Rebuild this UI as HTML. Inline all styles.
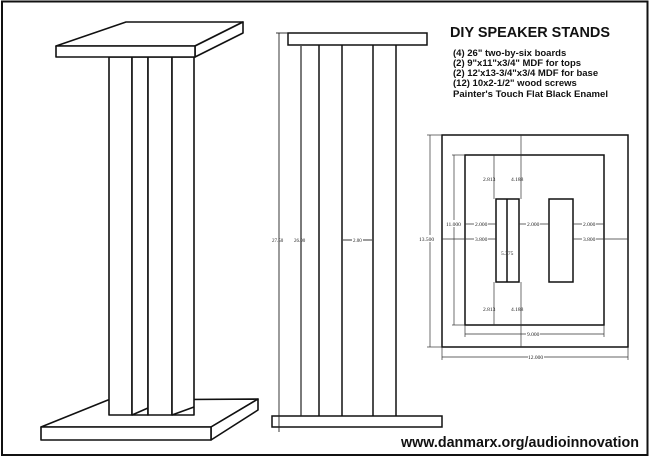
<!DOCTYPE html>
<html><head><meta charset="utf-8"><style>
html,body{margin:0;padding:0;background:#fff;}
svg{display:block;}
.t{font-family:"Liberation Sans",Arial,sans-serif;font-weight:bold;fill:#111;}
.s{font-family:"Liberation Serif",serif;font-size:5.5px;fill:#222;}
</style></head><body>
<svg width="650" height="457" viewBox="0 0 650 457" xmlns="http://www.w3.org/2000/svg">
<rect x="2" y="1.5" width="645.5" height="453.5" fill="#fff" stroke="#111" stroke-width="2"/>
<g fill="#fff" stroke="#111" stroke-width="1.6" stroke-linejoin="round">
<polygon points="41,427 108,400 258,399 211,427"/>
<polygon points="211,427 258,399 258,410 211,440"/>
<rect x="41" y="427" width="170" height="13"/>
<rect x="109" y="57" width="23" height="358"/>
<rect x="132" y="57" width="16" height="358"/>
<rect x="148" y="57" width="24" height="358"/>
<rect x="172" y="57" width="22" height="358"/>
<line x1="132" y1="415" x2="148" y2="408"/>
<line x1="172" y1="415" x2="194" y2="407"/>
<polygon points="56,46 126,22 243,22 195,46"/>
<polygon points="195,46 243,22 243,33 195,57"/>
<rect x="56" y="46" width="139" height="11"/>
</g>
<g fill="#fff" stroke="#111" stroke-width="1.5">
<rect x="288" y="33" width="139" height="12"/>
<rect x="272" y="416" width="170" height="11"/>
<line x1="319" y1="45" x2="319" y2="416"/>
<line x1="342" y1="45" x2="342" y2="416"/>
<line x1="373" y1="45" x2="373" y2="416"/>
<line x1="396" y1="45" x2="396" y2="416"/>
</g>
<g stroke="#222" stroke-width="0.9">
<line x1="279" y1="33" x2="279" y2="432"/>
<line x1="276" y1="33" x2="288" y2="33"/>
<line x1="301" y1="46" x2="301" y2="416" stroke-width="1.2"/>
<line x1="343" y1="240" x2="352" y2="240"/>
<line x1="363" y1="240" x2="372" y2="240"/>
</g>
<text class="s" x="272" y="242" style="font-size:5px">27.50</text>
<text class="s" x="294" y="242" style="font-size:5px">26.00</text>
<text class="s" x="353" y="242" style="font-size:5px">2.00</text>
<text class="t" x="450" y="37" font-size="14.5" textLength="160" lengthAdjust="spacingAndGlyphs">DIY SPEAKER STANDS</text>
<text class="t" x="453" y="56" font-size="9.5">(4) 26" two-by-six boards</text>
<text class="t" x="453" y="66" font-size="9.5">(2) 9"x11"x3/4" MDF for tops</text>
<text class="t" x="453" y="76" font-size="9.5">(2) 12'x13-3/4"x3/4 MDF for base</text>
<text class="t" x="453" y="86" font-size="9.5">(12) 10x2-1/2" wood screws</text>
<text class="t" x="453" y="97" font-size="9.5" textLength="155" lengthAdjust="spacingAndGlyphs">Painter's Touch Flat Black Enamel</text>
<text class="t" x="401" y="447" font-size="15" textLength="238" lengthAdjust="spacingAndGlyphs">www.danmarx.org/audioinnovation</text>
<g fill="none" stroke="#111" stroke-width="1.5">
<rect x="442" y="135" width="186" height="212"/>
<rect x="465" y="155" width="139" height="170"/>
<rect x="496" y="199" width="23" height="83"/>
<line x1="507" y1="199" x2="507" y2="282"/>
<rect x="549" y="199" width="24" height="83"/>
</g>
<g stroke="#333" stroke-width="0.7">
<line x1="430" y1="135" x2="430" y2="347"/><line x1="427" y1="135" x2="442" y2="135"/><line x1="427" y1="347" x2="442" y2="347"/>
<line x1="454" y1="155" x2="454" y2="325"/><line x1="452" y1="155" x2="465" y2="155"/><line x1="452" y1="325" x2="465" y2="325"/>
<line x1="494" y1="155" x2="494" y2="199"/><line x1="494" y1="282" x2="494" y2="325"/>
<line x1="521" y1="135" x2="521" y2="199"/><line x1="521" y1="282" x2="521" y2="347"/>
<line x1="465" y1="224" x2="496" y2="224"/><line x1="442" y1="239" x2="496" y2="239"/>
<line x1="519" y1="224" x2="549" y2="224"/>
<line x1="573" y1="224" x2="604" y2="224"/><line x1="573" y1="239" x2="628" y2="239"/>
<line x1="465" y1="334" x2="604" y2="334"/><line x1="465" y1="325" x2="465" y2="337"/><line x1="604" y1="325" x2="604" y2="337"/>
<line x1="442" y1="357" x2="628" y2="357"/><line x1="442" y1="347" x2="442" y2="360"/><line x1="628" y1="347" x2="628" y2="360"/>
</g>
<g>
<rect x="474" y="220" width="14" height="7" fill="#fff"/><text class="s" x="475" y="226">2.000</text>
<rect x="474" y="235" width="14" height="7" fill="#fff"/><text class="s" x="475" y="241">3.800</text>
<rect x="526" y="220" width="14" height="7" fill="#fff"/><text class="s" x="527" y="226">2.000</text>
<rect x="582" y="220" width="14" height="7" fill="#fff"/><text class="s" x="583" y="226">2.000</text>
<rect x="582" y="235" width="14" height="7" fill="#fff"/><text class="s" x="583" y="241">3.800</text>
<rect x="446" y="220" width="15" height="7" fill="#fff"/><text class="s" x="446" y="226">11.000</text>
<rect x="420" y="235" width="16" height="7" fill="#fff"/><text class="s" x="419" y="241">13.500</text>
<text class="s" x="483" y="181">2.813</text>
<text class="s" x="511" y="181">4.188</text>
<text class="s" x="483" y="311">2.813</text>
<text class="s" x="511" y="311">4.188</text>
<text class="s" x="501" y="255">5.375</text>
<rect x="526" y="330" width="14" height="7" fill="#fff"/><text class="s" x="527" y="336">9.000</text>
<rect x="528" y="353" width="16" height="7" fill="#fff"/><text class="s" x="528" y="359">12.000</text>
</g>
</svg>
</body></html>
